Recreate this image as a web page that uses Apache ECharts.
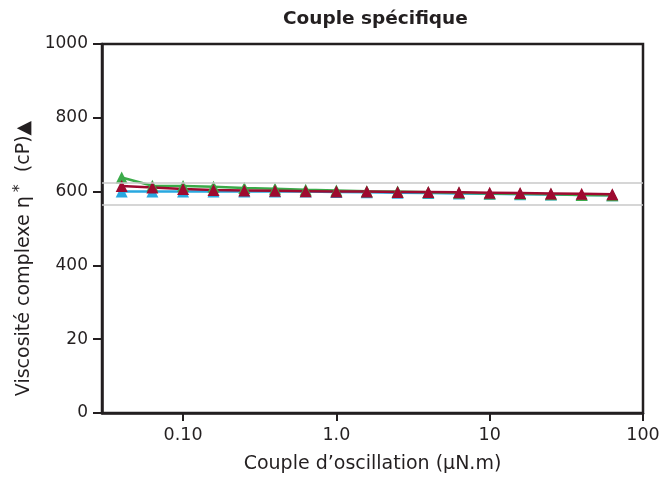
<!DOCTYPE html>
<html>
<head>
<meta charset="utf-8">
<script src="https://cdn.jsdelivr.net/npm/echarts@6/dist/echarts.min.js"></script>
<style>
  html, body { margin: 0; padding: 0; background: #fff; }
  #root { width: 666px; height: 482px; }
</style>
</head>
<body>
<div id="root"></div>
<script>
// données
const torque = [0.0398, 0.0631, 0.1, 0.158, 0.251, 0.398, 0.631, 1, 1.58, 2.51, 3.98, 6.31, 10, 15.8, 25.1, 39.8, 63.1];
const bleu  = [600, 600, 600, 600, 600, 600, 600, 599, 598, 597, 596, 595, 594, 593, 592, 591, 590];
const vert  = [638, 616, 615, 613, 610, 608, 605, 603, 601, 600, 598, 597, 595, 594, 593, 591, 590];
const rouge = [615, 611, 607, 604, 603, 602, 601, 600, 600, 599, 599, 598, 597, 596, 595, 594, 593];
const refLines = [625, 565];

const xTicks = [0.1, 1, 10, 100];
const xTickLabels = ['0.10', '1.0', '10', '100'];
const yTicks = [0, 200, 400, 600, 800, 1000];
const yTickLabels = ['0', '20', '400', '600', '800', '1000'];

const INK = '#231f20';
const FONT = 'DejaVu Sans';
const colors = { bleu: '#29a8e0', vert: '#3cab4a', rouge: '#9e0a30' };

let pairs = function (ys) {
    return torque.map((x, i) => [x, ys[i]]);
};

let makeSeries = function (name, ys, color) {
    return {
        name: name,
        type: 'line',
        data: pairs(ys),
        symbol: 'triangle',
        symbolSize: 12,
        lineStyle: { color: color, width: 2.5 },
        itemStyle: { color: color },
        emphasis: { disabled: true }
    };
};

let series = [
    makeSeries('bleu', bleu, colors.bleu),
    makeSeries('vert', vert, colors.vert),
    makeSeries('rouge', rouge, colors.rouge)
];
// les deux lignes grises horizontales
series[0].markLine = {
    silent: true,
    symbol: 'none',
    label: { show: false },
    lineStyle: { color: '#c9c9c9', type: 'solid', width: 1.5 },
    data: refLines.map(v => ({ yAxis: v }))
};

let myChart = echarts.init(document.getElementById('root'), null, { renderer: 'canvas' });

let option = {
    animation: false,
    textStyle: { fontFamily: FONT },
    title: {
        text: 'Couple spécifique',
        left: 278,
        top: 5,
        textStyle: { fontFamily: FONT, fontWeight: 'bold', fontSize: 18.5, color: INK }
    },
    grid: {
        left: 102, right: 23, top: 44, bottom: 69,
        show: true,
        borderColor: INK,
        borderWidth: 2.5
    },
    xAxis: {
        type: 'log',
        logBase: 10,
        min: 0.0296,
        max: 100,
        name: 'Couple d\u2019oscillation (\u00b5N.m)',
        nameLocation: 'middle',
        nameGap: 42,
        nameTextStyle: { fontFamily: FONT, fontSize: 19, color: INK },
        axisLine: { lineStyle: { color: INK, width: 2.5 } },
        axisTick: { show: true, length: 8, inside: false, customValues: xTicks, lineStyle: { color: INK, width: 2 } },
        axisLabel: {
            margin: 13,
            fontSize: 17.5,
            color: INK,
            customValues: xTicks,
            formatter: function (v) {
                let i = xTicks.findIndex(t => Math.abs(t - v) / t < 1e-6);
                return i >= 0 ? xTickLabels[i] : '';
            }
        },
        splitLine: { show: false },
        minorTick: { show: false }
    },
    yAxis: {
        type: 'value',
        min: 0,
        max: 1000,
        interval: 200,
        name: '{n|Viscosit\u00e9 complexe \u03b7}{s|*}{n|  (cP)}{t|\u25b2}',
        nameLocation: 'middle',
        nameGap: 62,
        nameRotate: 90,
        nameTextStyle: {
            fontFamily: FONT,
            color: INK,
            padding: [0, 60, 0, 0],
            rich: {
                n: { fontFamily: FONT, fontSize: 19, color: INK },
                s: { fontFamily: FONT, fontSize: 16, color: INK, verticalAlign: 'top', padding: [0, 0, 8, 4] },
                t: { fontFamily: FONT, fontSize: 19, color: INK }
            }
        },
        axisLine: { show: true, lineStyle: { color: INK, width: 2.5 } },
        axisTick: { show: true, length: 9, inside: false, lineStyle: { color: INK, width: 2 } },
        axisLabel: {
            margin: 14,
            fontSize: 17,
            color: INK,
            formatter: function (v) {
                let i = yTicks.indexOf(v);
                return i >= 0 ? yTickLabels[i] : '';
            }
        },
        splitLine: { show: false }
    },
    series: series
};

myChart.setOption(option);
</script>
</body>
</html>
